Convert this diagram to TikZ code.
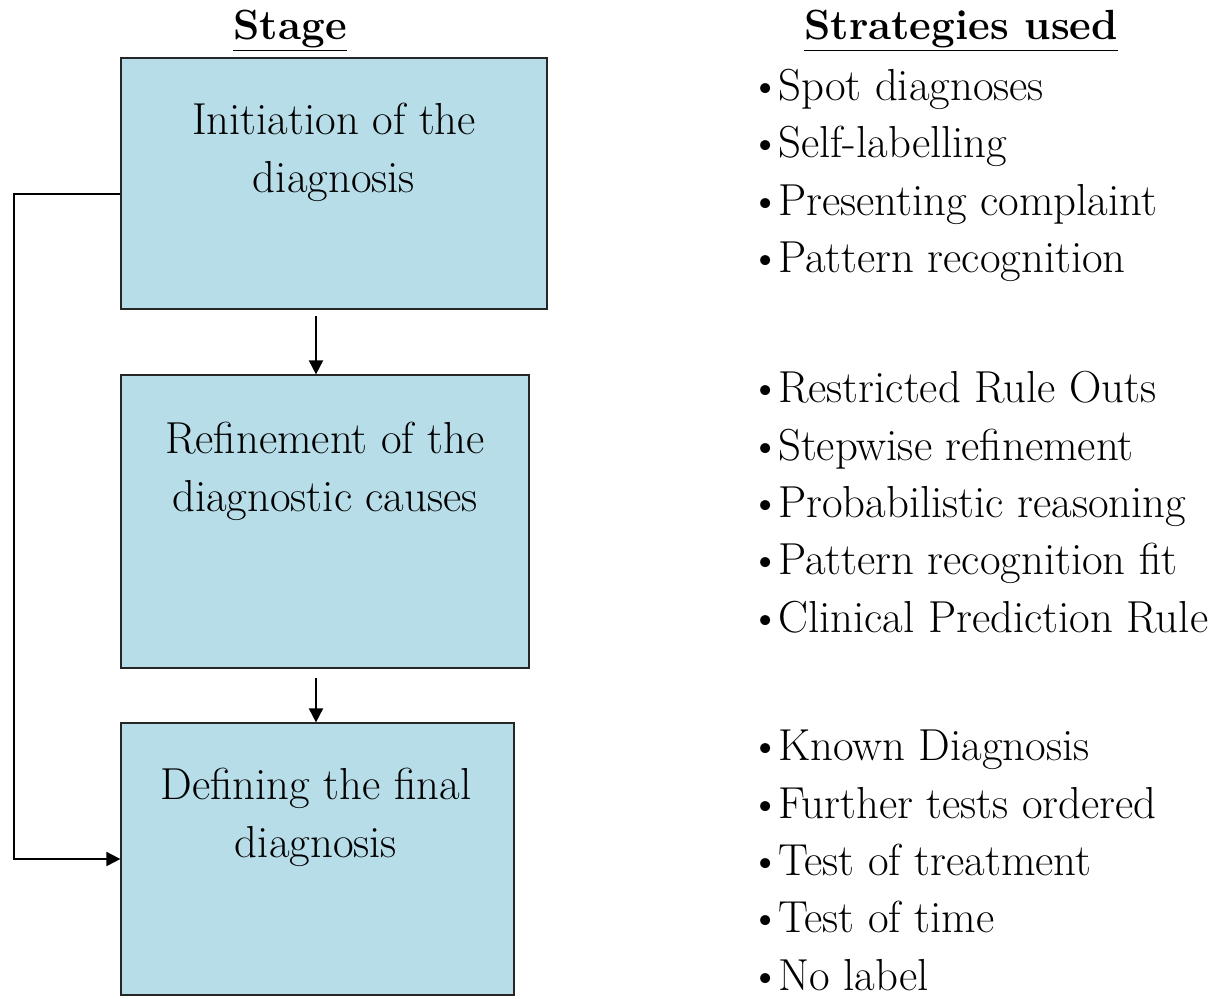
\documentclass[tikz,border=0pt]{standalone}
\usepackage{tikz}
\usetikzlibrary{calc, arrows.meta, positioning}
\definecolor{stagefill}{RGB}{183,221,232}
\newcommand{\bul}{\textbullet\kern-2pt}
\tikzset{
	stagebox/.style={draw=black!85, fill=stagefill, line width=0.7pt, inner sep=0pt},
	stagetext/.style={align=center, font=\fontsize{25.5}{32.6}\selectfont, inner sep=0pt, anchor=base},
	listtext/.style={align=left, font=\fontsize{25.5}{32.6}\selectfont, inner sep=0pt, anchor=base west},
	heading/.style={font=\bfseries\fontsize{24}{28}\selectfont, inner sep=0pt, anchor=base},
	link/.style={-{Triangle[length=8pt,width=8pt]}, line width=1.1pt},
}
\begin{document}
\begin{tikzpicture}
		\useasboundingbox (0,0) rectangle (24.36,-19.96);
		\node[heading] (stageHead) at (5.8,-0.78) {\underline{Stage}}; %見出し
		\node[heading] (stratHead) at (19.22,-0.78) {\underline{Strategies used}};
		\node[stagebox, minimum width=8.52cm, minimum height=5.02cm] (init) at (6.68,-3.67) {}; %段階1
		\node[stagebox, minimum width=8.16cm, minimum height=5.86cm] (refine) at (6.5,-10.43) {}; %段階2
		\node[stagebox, minimum width=7.86cm, minimum height=5.44cm] (final) at (6.35,-17.18) {}; %段階3
		\node[stagetext] (initText) at (6.68,-3.84) {Initiation of the\\diagnosis};
		\node[stagetext] (refineText) at (6.5,-10.22) {Refinement of the\\diagnostic causes};
		\node[stagetext] (finalText) at (6.32,-17.14) {Defining the final\\diagnosis};
		\coordinate (a1) at (6.32,-6.32);
		\coordinate (a2) at (6.32,-13.56);
		\coordinate (fb) at (0.28,-3.88);
		\draw[link] (a1)--(a1 |- refine.north);
		\draw[link] (a2)--(a2 |- final.north);
		\draw[link] (init.west |- fb)--(fb) |- (final.west); %戻り
		\node[listtext] (initList) at (14.98,-5.45) {\bul Spot diagnoses\\\bul Self-labelling\\\bul Presenting complaint\\\bul Pattern recognition};
		\node[listtext] (refineList) at (14.98,-12.64) {\bul Restricted Rule Outs\\\bul Stepwise refinement\\\bul Probabilistic reasoning\\\bul Pattern recognition fit\\\bul Clinical Prediction Rule};
		\node[listtext] (finalList) at (14.98,-19.8) {\bul Known Diagnosis\\\bul Further tests ordered\\\bul Test of treatment\\\bul Test of time\\\bul No label};
	\end{tikzpicture}
\end{document}
